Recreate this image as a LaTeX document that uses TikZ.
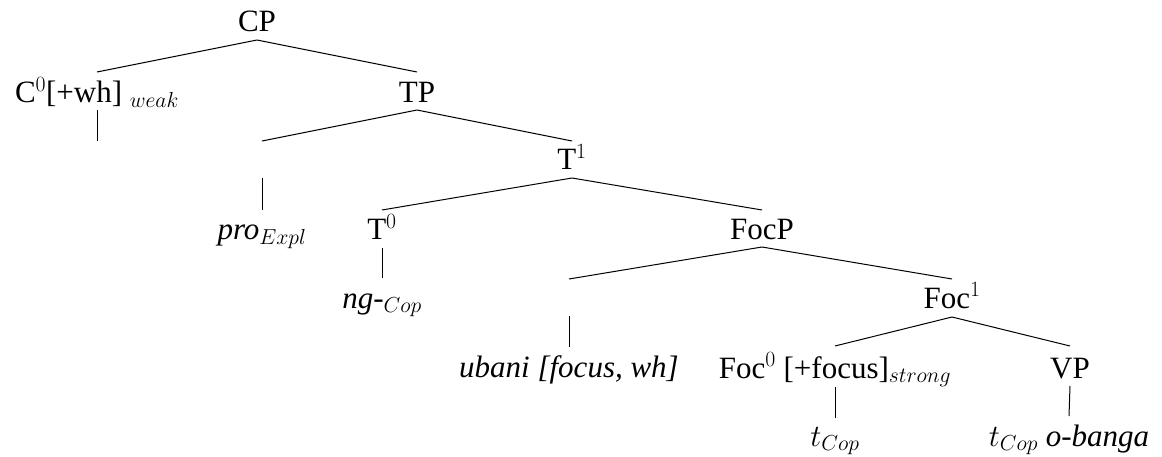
\RequirePackage{fix-cm}
\documentclass[tikz,border=0pt]{standalone}
\usepackage{fontspec}
\setmainfont{Liberation Serif}[ItalicFont={Liberation Serif Italic}]
\tikzset{
  lbl/.style={anchor=base, inner sep=0pt, font=\fontsize{31}{37}\selectfont},
  edge/.style={line width=1pt}
}
\begin{document}
\begin{tikzpicture}[x=1pt,y=-1pt]
\useasboundingbox (0,0) rectangle (1162,457);
% nodes
\node[lbl] (cp) at (257,32) {CP};
\node[lbl] (c0) at (97,103) {C$^0$[+wh] $_{weak}$};
\node[lbl] (tp) at (417,103) {TP};
\coordinate (e1) at (97,170);
\coordinate (e2) at (262,170);
\node[lbl] (t1) at (572,170) {T$^1$};
\node[lbl] (pro) at (262,240) {\textit{pro}$_{Expl}$};
\node[lbl] (t0) at (382,240) {T$^0$};
\node[lbl] (focp) at (762,240) {FocP};
\node[lbl] (ng) at (382,308) {\textit{ng-}$_{Cop}$};
\coordinate (e3) at (569,308);
\node[lbl] (foc1) at (952,308) {Foc$^1$};
\node[lbl] (ubani) at (569,377) {\textit{ubani [focus, wh]}};
\node[lbl] (foc0) at (835,378) {Foc$^0$ [+focus]$_{strong}$};
\node[lbl] (vp) at (1070,378) {VP};
\node[lbl] (tcop) at (835,446) {$t_{Cop}$};
\node[lbl] (tob) at (1069,446) {$t_{Cop}$ \textit{o-banga}};
% edges
\draw[edge] ([yshift=-8pt]cp.base) -- ([yshift=31pt]c0.base);
\draw[edge] ([yshift=-8pt]cp.base) -- ([yshift=31pt]tp.base);
\draw[edge] ([yshift=-7pt]c0.base) -- ([yshift=29pt]e1);
\draw[edge] ([yshift=-7pt]tp.base) -- ([yshift=29pt]e2);
\draw[edge] ([yshift=-7pt]tp.base) -- ([yshift=29pt]t1.base);
\draw[edge] ([yshift=-8pt]e2) -- ([yshift=30pt]pro.base);
\draw[edge] ([yshift=-8pt]t1.base) -- ([yshift=30pt]t0.base);
\draw[edge] ([yshift=-8pt]t1.base) -- ([yshift=30pt]focp.base);
\draw[edge] ([yshift=-8pt]t0.base) -- ([yshift=30pt]ng.base);
\draw[edge] ([yshift=-7pt]focp.base) -- ([yshift=29pt]e3);
\draw[edge] ([yshift=-7pt]focp.base) -- ([yshift=29pt]foc1.base);
\draw[edge] ([yshift=-8pt]e3) -- ([yshift=30pt]ubani.base);
\draw[edge] ([yshift=-9pt]foc1.base) -- ([yshift=32pt]foc0.base);
\draw[edge] ([yshift=-9pt]foc1.base) -- ([yshift=32pt]vp.base);
\draw[edge] ([yshift=-9pt]foc0.base) -- ([yshift=28pt]tcop.base);
\draw[edge] ([yshift=-8pt]vp.base) -- ([yshift=30pt]tob.base);
\end{tikzpicture}
\end{document}
